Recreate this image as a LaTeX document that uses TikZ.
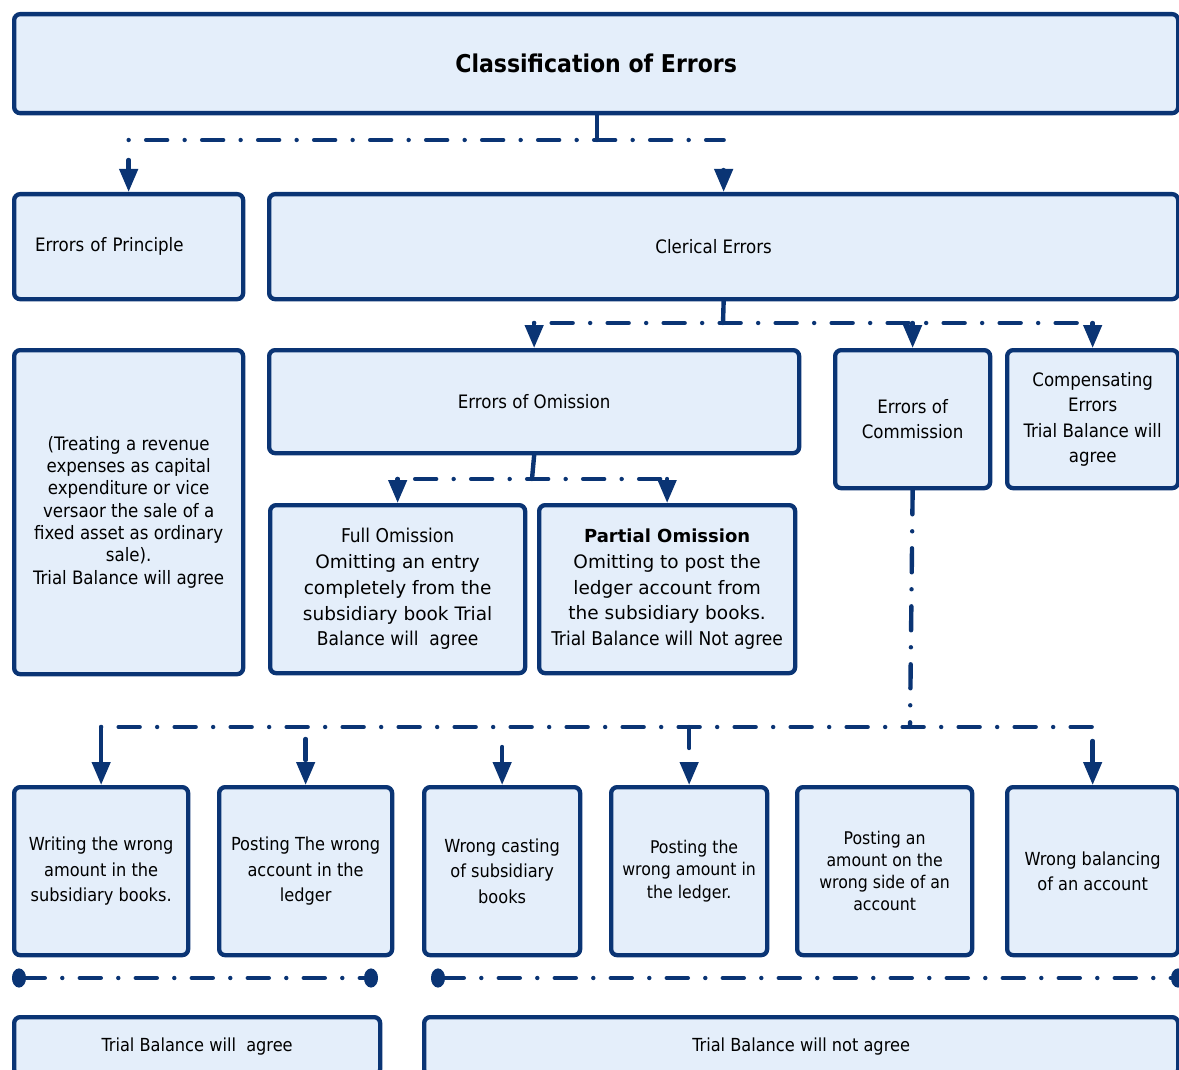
\documentclass[tikz,border=0pt]{standalone}
\usepackage{fontspec}
\setmainfont{DejaVu Sans Condensed}
\newfontfamily\wideface{DejaVu Sans}
\usetikzlibrary{arrows.meta}
\definecolor{navy}{RGB}{10,52,116}
\definecolor{paleblue}{RGB}{228,238,250}
\newcommand{\wtxt}[1]{{\wideface\fontsize{18.5}{25.7}\selectfont #1}}
\begin{document}
\begin{tikzpicture}[x=1pt,y=-1pt,
  box/.style={draw=navy, fill=paleblue, line width=4.3pt, rounded corners=6pt,
    inner sep=0pt, anchor=north west, align=center, text=black,
    font=\fontsize{18.5}{22.3}\selectfont},
  conn/.style={draw=navy, line width=4.4pt, line cap=round,
    dash pattern=on 21pt off 17.5pt on 0pt off 17.5pt,
    -{Triangle[width=18pt,length=23pt]}},
  bar/.style={draw=navy, line width=4.4pt, line cap=round,
    dash pattern=on 0pt off 17.5pt on 21pt off 17.5pt},
  trunk/.style={draw=navy, line width=4.4pt, line cap=round},
  tie/.style={draw=navy, line width=4.4pt, line cap=round,
    dash pattern=on 21pt off 17.5pt on 0pt off 17.5pt,
    {Circle[length=14pt,width=19pt]}-{Circle[length=14pt,width=19pt]}},
  bot/.style={box, font=\fontsize{18}{25.5}\selectfont}
]
\useasboundingbox (0,0) rectangle (1179,1070);

% boxes
\node[box, minimum width=1164pt, minimum height=99pt, font=\fontsize{24.5}{28}\selectfont\bfseries]
  (title) at (12,12) {Classification of Errors};
\node[box, minimum width=229pt, minimum height=105pt, text width=187pt, align=left]
  (prin) at (12,192) {Errors of Principle};
\node[box, minimum width=909pt, minimum height=105pt]
  (cler) at (267,192) {\hspace*{-20pt}Clerical Errors};
\node[box, minimum width=229pt, minimum height=324pt]
  (prind) at (12,348) {(Treating a revenue\\expenses as capital\\expenditure or vice\\versaor the sale of a\\fixed asset as ordinary\\sale).\\Trial Balance will agree};
\node[box, minimum width=530pt, minimum height=103pt]
  (omis) at (267,348) {Errors of Omission};
\node[box, minimum width=155pt, minimum height=138pt, font=\fontsize{18.5}{25}\selectfont]
  (comm) at (833,348) {Errors of\\Commission};
\node[box, minimum width=171pt, minimum height=138pt, font=\fontsize{18.5}{25.5}\selectfont]
  (comp) at (1005,348) {Compensating\\Errors\\Trial Balance will\\agree};
\node[box, minimum width=255pt, minimum height=168pt, font=\fontsize{19}{25.7}\selectfont]
  (full) at (268,503) {Full Omission\\\wtxt{Omitting an entry}\\\wtxt{completely from the}\\\wtxt{subsidiary book Trial}\\Balance will\ \ agree};
\node[box, minimum width=256pt, minimum height=168pt, font=\fontsize{19}{25.7}\selectfont]
  (part) at (537,503) {{\wideface\fontsize{18}{25.7}\selectfont\bfseries Partial Omission}\\\wtxt{Omitting to post the}\\\wtxt{ledger account from}\\\wtxt{the subsidiary books.}\\Trial Balance will Not agree};

\node[bot, minimum width=174pt, minimum height=168pt] (b1) at (12,785)
  {Writing the wrong\\amount in the\\subsidiary books.};
\node[bot, minimum width=173pt, minimum height=168pt] (b2) at (217,785)
  {Posting The wrong\\account in the\\ledger};
\node[bot, minimum width=156pt, minimum height=168pt] (b3) at (422,785)
  {Wrong casting\\of subsidiary\\books};
\node[bot, minimum width=156pt, minimum height=168pt, font=\fontsize{17.5}{22.5}\selectfont] (b4) at (609,785)
  {\ \ Posting the\\wrong amount in\\the ledger.};
\node[bot, minimum width=175pt, minimum height=168pt, font=\fontsize{17.5}{22.2}\selectfont] (b5) at (795,785)
  {Posting an\\amount on the\\wrong side of an\\account};
\node[bot, minimum width=171pt, minimum height=168pt] (b6) at (1005,785)
  {Wrong balancing\\of an account};

\node[bot, minimum width=366pt, minimum height=58pt] (tb1) at (12,1015)
  {Trial Balance will\ \ agree};
\node[bot, minimum width=754pt, minimum height=58pt] (tb2) at (422,1015)
  {Trial Balance will not agree};

% junctions
\coordinate (j1) at (597,140);
\coordinate (j2) at (723,323);
\coordinate (j3) at (532,479);
\coordinate (j4) at (910,727);

% level 1
\draw[trunk] (title.south -| j1) -- (j1);
\draw[bar] (prin.north |- j1) -- (cler.north |- j1);
\draw[conn] (prin.north |- j1) ++(0,20) -- (prin.north);
\draw[conn] (cler.north |- j1) ++(0,32) -- (cler.north);

% level 2
\draw[trunk] (cler.south) -- (j2);
\draw[bar] (omis.north |- j2) -- (comp.north |- j2);
\draw[conn] (omis.north |- j2) -- (omis.north);
\draw[conn] (comm.north |- j2) -- (comm.north);
\draw[conn] (comp.north |- j2) -- (comp.north);

% level 3
\draw[trunk] (omis.south) -- (j3);
\draw[bar] (full.north |- j3) -- (part.north |- j3);
\draw[conn] (full.north |- j3) -- (full.north);
\draw[conn] (part.north |- j3) -- (part.north);

% level 4
\draw[trunk, dash pattern=on 24pt off 17pt on 0pt off 17pt] (comm.south) -- (j4);
\draw[bar] (b1.north |- j4) -- (b6.north |- j4);
\draw[conn, dash pattern=on 58pt off 1pt] (b1.north |- j4) -- (b1.north);
\draw[conn] (b2.north |- j4) ++(0,12) -- (b2.north);
\draw[conn] (b3.north |- j4) ++(0,20) -- (b3.north);
\draw[conn] (b4.north |- j4) -- (b4.north);
\draw[conn] (b6.north |- j4) ++(0,14) -- (b6.north);

% agree / not agree ties
\coordinate (l1) at (12,978);
\coordinate (l2) at (378,978);
\coordinate (r1) at (431,978);
\coordinate (r2) at (1185,978);
\draw[tie] (l1) -- (l2);
\draw[tie] (r1) -- (r2);
\end{tikzpicture}
\end{document}
